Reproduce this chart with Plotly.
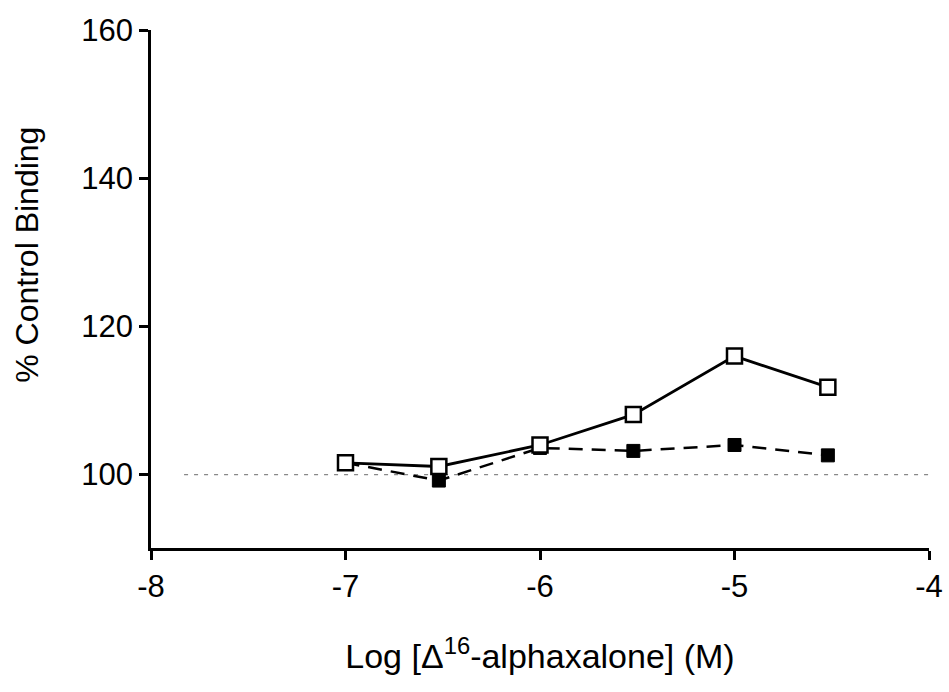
import plotly.graph_objects as go

# Log molar concentration of Δ16-alphaxalone
log_conc = [-7.0, -6.52, -6.0, -5.52, -5.0, -4.52]
# % control binding, two conditions
open_series = [101.6, 101.1, 104.0, 108.1, 116.0, 111.8]
filled_series = [101.6, 99.2, 103.6, 103.2, 104.0, 102.6]

x_ticks = [-8, -7, -6, -5, -4]
x_tick_labels = ["-8", "-7", "-6", "-5", "-4"]
y_ticks = [100, 120, 140, 160]
control_level = 100
control_x = [-7.83, -4.0]

font_family = "Liberation Sans, Arial, sans-serif"

fig = go.Figure()

# Control (100 %) reference line
fig.add_trace(go.Scatter(
    x=control_x, y=[control_level, control_level], mode="lines",
    line=dict(color="#888888", width=1.2, dash="4px,6px"),
    hoverinfo="skip", showlegend=False,
))

fig.add_trace(go.Scatter(
    x=log_conc, y=filled_series, mode="lines+markers",
    line=dict(color="black", width=2.5, dash="14px,9px"),
    marker=dict(symbol="square", size=13, color="black",
                line=dict(color="black", width=1)),
    showlegend=False,
))

fig.add_trace(go.Scatter(
    x=log_conc, y=open_series, mode="lines+markers",
    line=dict(color="black", width=2.8),
    marker=dict(symbol="square", size=15, color="white",
                line=dict(color="black", width=2.5)),
    showlegend=False,
))

fig.update_layout(
    width=949, height=692,
    margin=dict(l=151, r=20, t=30, b=144),
    plot_bgcolor="white", paper_bgcolor="white",
    font=dict(family=font_family, size=31, color="black"),
    xaxis=dict(
        range=[-8, -4], tickvals=x_ticks, ticktext=x_tick_labels,
        automargin=False,
        showgrid=False, zeroline=False,
        showline=True, linecolor="black", linewidth=2.5,
        ticks="outside", ticklen=9, tickwidth=2.5, tickcolor="black",
        tickfont=dict(size=31),
        title=dict(text="Log [Δ<sup>16</sup>-alphaxalone] (M)",
                   font=dict(size=34), standoff=42),
    ),
    yaxis=dict(
        range=[90.1, 160], tickvals=y_ticks,
        automargin=False,
        showgrid=False, zeroline=False,
        showline=True, linecolor="black", linewidth=2.5,
        ticks="outside", ticklen=9, tickwidth=2.5, tickcolor="black",
        tickfont=dict(size=31),
    ),
    annotations=[dict(
        text="% Control Binding", textangle=-90,
        xref="paper", yref="paper", x=-0.1595, y=0.566,
        xanchor="center", yanchor="middle", showarrow=False,
        font=dict(size=32),
    )],
)

fig.write_html("out.html")
